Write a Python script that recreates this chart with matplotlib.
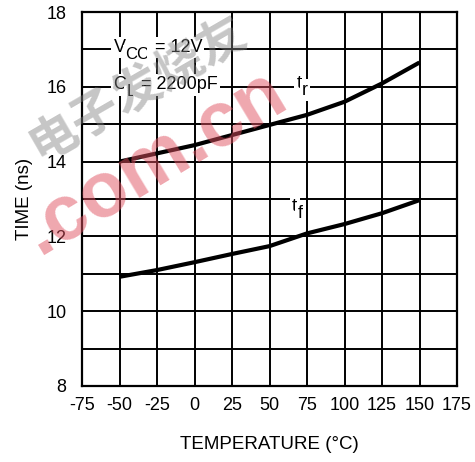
import matplotlib
matplotlib.use("Agg")
import matplotlib.pyplot as plt
from matplotlib.transforms import offset_copy

plt.rcParams["font.family"] = ["Liberation Sans", "DejaVu Sans"]
plt.rcParams["axes.unicode_minus"] = False

temp = [-50, -25, 0, 25, 50, 75, 100, 125, 150]
t_rise = [14.0, 14.22, 14.44, 14.71, 14.98, 15.25, 15.6, 16.09, 16.65]
t_fall = [10.92, 11.1, 11.31, 11.53, 11.74, 12.08, 12.33, 12.62, 12.97]
xticks = [-75, -50, -25, 0, 25, 50, 75, 100, 125, 150, 175]
yticks = [8, 10, 12, 14, 16, 18]

fig = plt.figure(figsize=(4.75, 4.62), dpi=100)
ax = fig.add_axes([82 / 475, 1 - 386 / 462, 375 / 475, 374 / 462])
ax.set_facecolor("none")

ax.plot(temp, t_rise, color="black", lw=3.0, solid_capstyle="butt", zorder=3)
ax.plot(temp, t_fall, color="black", lw=3.0, solid_capstyle="butt", zorder=3)

ax.set_xlim(-75, 175)
ax.set_ylim(8, 18)
ax.set_xticks(xticks)
ax.set_yticks(yticks)
ax.set_xticks(range(-75, 176, 25), minor=True)
ax.set_yticks(range(8, 19), minor=True)
ax.grid(True, which="both", color="black", lw=1.4, zorder=1)
ax.tick_params(which="both", length=0, labelsize=13)
ax.tick_params(axis="x", pad=8)
ax.tick_params(axis="y", pad=11)
for s in ax.spines.values():
    s.set_linewidth(1.6)

ax.set_xlabel("TEMPERATURE (°C)", fontsize=13.5, labelpad=16)
ax.set_ylabel("TIME (ns)", fontsize=13.5, labelpad=10)

renderer = fig.canvas.get_renderer()
bbox = dict(facecolor="white", edgecolor="none", pad=1.5)


def sub_label(x, y, main, sub, rest="", size=13):
    # main letter, lowered subscript at nearly full size, then the rest
    t = ax.text(x, y, main, fontsize=size, va="center", bbox=bbox, zorder=4)
    w = t.get_window_extent(renderer).width * 72 / fig.dpi
    tr = offset_copy(ax.transData, fig=fig, x=w, y=-5, units="points")
    s = ax.text(x, y, sub, fontsize=size * 0.92, va="center", transform=tr,
                bbox=bbox, zorder=4)
    if rest:
        w2 = s.get_window_extent(renderer).width * 72 / fig.dpi
        tr2 = offset_copy(ax.transData, fig=fig, x=w + w2, y=0, units="points")
        ax.text(x, y, rest, fontsize=size, va="center", transform=tr2,
                bbox=bbox, zorder=4)


sub_label(-54, 17.05, "V", "CC", " = 12V")
sub_label(-54, 16.05, "C", "L", " = 2200pF")
sub_label(68, 16.1, "t", "r", size=14)
sub_label(65, 12.8, "t", "f", size=14)

# watermark
fig.text(0.325, 0.65, ".com.cn", fontsize=56, fontweight="bold", color="#e05060",
         rotation=31, ha="center", va="center", alpha=0.5, zorder=10)
fig.text(0.29, 0.81, "电子发烧友", fontsize=35, fontweight="bold", color="#808080",
         rotation=30, ha="center", va="center", alpha=0.45,
         family=["Noto Sans CJK SC", "DejaVu Sans"], zorder=10)

fig.savefig("out.png", dpi=100)
